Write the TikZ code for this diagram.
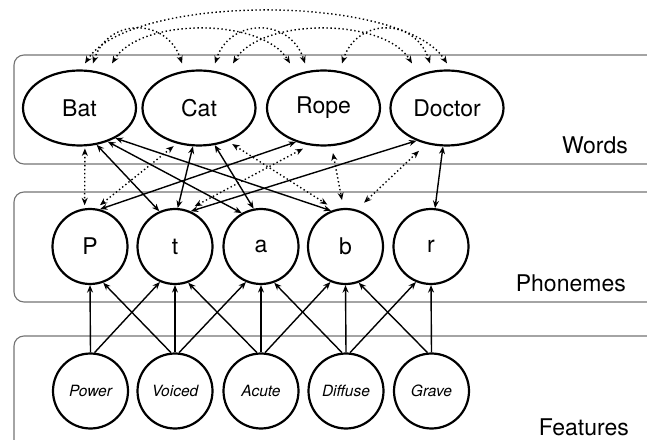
\documentclass[tikz,border=0pt]{standalone}
\usepackage{fontspec}
\setmainfont{TeX Gyre Heros}
\usetikzlibrary{arrows.meta, shapes.geometric}

\begin{document}
\begin{tikzpicture}
            [x=1pt, y=1pt,
             layer/.style={draw=black!55, line width=1.1pt, rounded corners=10pt},
             word/.style={ellipse, draw, line width=2.2pt, minimum width=113pt, minimum height=75pt, inner sep=0pt, font=\fontsize{23}{26}\selectfont},
             phone/.style={circle, draw, line width=2.2pt, minimum size=75pt, inner sep=0pt, font=\fontsize{23}{26}\selectfont},
             feat/.style={circle, draw, line width=2.2pt, minimum size=75pt, inner sep=0pt, font=\fontsize{15.5}{18}\selectfont\itshape},
             level/.style={anchor=east, inner sep=0pt, font=\fontsize{23}{26}\selectfont},
             link/.style={line width=1.4pt},
             assoc/.style={line width=1.4pt, dash pattern=on 1.4pt off 2.6pt},
             >={Stealth[length=7.5pt, width=6pt]}]
            \useasboundingbox (0,0) rectangle (647,439);

            % layers
            \draw[layer] (14,384) rectangle (670,275);
            \draw[layer] (14,247) rectangle (670,137);
            \draw[layer] (14,103) rectangle (670,-15);
            \node[level] (wlab) at (628,294) {Words};
            \node[level] (plab) at (626,156) {Phonemes};
            \node[level] (flab) at (629,12) {Features};

            \node[word] (Bat) at (79.5,331) {Bat};
            \node[word] (Cat) at (199,331) {Cat};
            \node[word] (Rope) at (323.5,331) {Rope};
            \node[word] (Doctor) at (447,331) {Doctor};

            \node[phone] (P) at (90,192.5) {P};
            \node[phone] (t) at (175,192.5) {t};
            \node[phone] (a) at (261,192.5) {a};
            \node[phone] (b) at (345.5,192.5) {b};
            \node[phone] (r) at (431,192.5) {r};

            \node[feat] (Power) at (90.5,48) {Power};
            \node[feat] (Voiced) at (175,48) {Voiced};
            \node[feat] (Acute) at (261,48) {Acute};
            \node[feat] (Diffuse) at (346,48) {Diffuse};
            \node[feat] (Grave) at (431.5,48) {Grave};

            % features to phonemes
            \path [->, link] (Power.90) edge (P.-90);
            \path [->, link] (Power.84) edge (t.-113);
            \path [->, link] (Voiced.96) edge (P.-70);
            \path [->, link] (Voiced.90) edge (t.-90);
            \path [->, link] (Voiced.84) edge (a.-113);
            \path [->, link] (Acute.96) edge (t.-70);
            \path [->, link] (Acute.90) edge (a.-90);
            \path [->, link] (Acute.84) edge (b.-113);
            \path [->, link] (Diffuse.96) edge (a.-70);
            \path [->, link] (Diffuse.90) edge (b.-90);
            \path [->, link] (Diffuse.84) edge (r.-113);
            \path [->, link] (Grave.96) edge (b.-70);
            \path [->, link] (Grave.90) edge (r.-90);

            % words to phonemes
            \path [<->, link] (Bat.-65) edge (t.114);
            \path [<->, link] (Bat.-50) edge (a.120);
            \path [<->, link] (Bat.-40) edge (b.112);
            \path [<->, link] (Cat.-99) edge (t.86);
            \path [<->, link] (Cat.-67) edge (a.101);
            \path [<->, link] (Rope.-129) edge (P.75);
            \path [<->, link] (Doctor.-133) edge (t.66);
            \path [<->, link] (Doctor.-96) edge (r.84);

            \path [<->, assoc, shorten <=2pt, shorten >=3pt] (Bat.-82) edge (P.98);
            \path [<->, assoc, shorten <=4pt, shorten >=5pt] (Cat.-122) edge (P.81);
            \path [<->, assoc, shorten <=5pt, shorten >=9pt] (Cat.-49) edge (b.106);
            \path [<->, assoc, shorten <=7pt, shorten >=8pt] (Rope.-111) edge (t.71);
            \path [<->, assoc, shorten <=7pt, shorten >=8pt] (Rope.-78) edge (b.93);
            \path [<->, assoc, shorten <=10pt, shorten >=10pt] (Doctor.-120) edge (b.73);

            % words to words
            \draw [<->, assoc] ([xshift=5.5pt, yshift=6pt]Bat.north) .. controls +(45,70) and +(-45,70) .. ([yshift=6pt]Doctor.north);
            \draw [<->, assoc] ([xshift=13.5pt, yshift=6pt]Bat.north) .. controls +(15,46) and +(-15,46) .. ([xshift=-17pt, yshift=6pt]Cat.north);
            \draw [<->, assoc] ([xshift=32.5pt, yshift=6pt]Bat.north) .. controls +(28,46) and +(-28,46) .. ([xshift=-33.5pt, yshift=6pt]Rope.north);
            \draw [<->, assoc] ([xshift=16pt, yshift=6pt]Cat.north) .. controls +(15,46) and +(-15,46) .. ([xshift=-18.5pt, yshift=6pt]Rope.north);
            \draw [<->, assoc] ([xshift=34pt, yshift=6pt]Cat.north) .. controls +(28,46) and +(-28,46) .. ([xshift=-35pt, yshift=6pt]Doctor.north);
            \draw [<->, assoc] ([xshift=18.5pt, yshift=6pt]Rope.north) .. controls +(15,46) and +(-15,46) .. ([xshift=-17pt, yshift=6pt]Doctor.north);
\end{tikzpicture}
\end{document}
